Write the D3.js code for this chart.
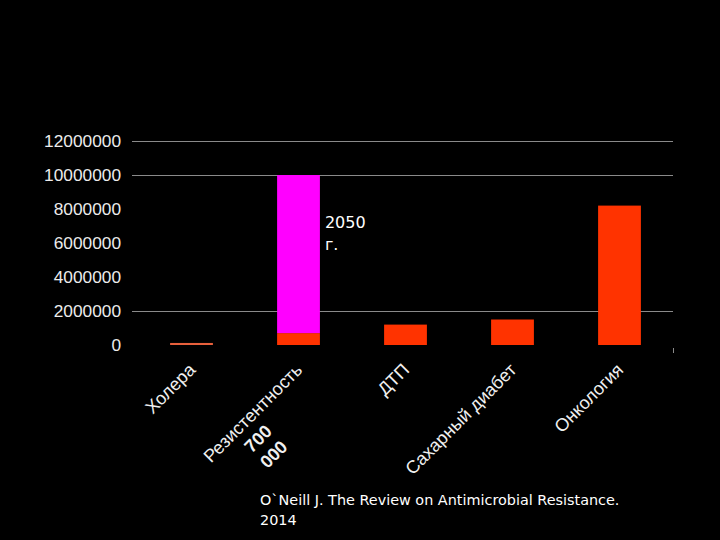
<!DOCTYPE html>
<html><head><meta charset="utf-8">
<script src="https://cdn.jsdelivr.net/npm/d3@7"></script>
<style>html,body{margin:0;padding:0;background:#000;}svg{display:block;}</style>
</head><body>
<script>
const categories = ["Холера", "Резистентность", "ДТП", "Сахарный диабет", "Онкология"];
const values2014 = [120000, 700000, 1200000, 1500000, 8200000];
const values2050 = [0, 10000000, 0, 0, 0];
const yTicks = [0, 2000000, 4000000, 6000000, 8000000, 10000000, 12000000];
const gridValues = [2000000, 10000000, 12000000];
const resistExtra = ["700", "000"];
const annotation = ["2050", "г."];
const citation = ["O`Neill J. The Review on Antimicrobial Resistance.", "2014"];

const W = 720, H = 540;
const svg = d3.select("body").append("svg").attr("width", W).attr("height", H);
svg.append("rect").attr("width", W).attr("height", H).attr("fill", "#000");

const x = d3.scaleBand().domain(categories).range([138, 673]).paddingInner(0.6).paddingOuter(0.3);
const y = d3.scaleLinear().domain([0, 12000000]).range([345, 141]);

// gridlines
svg.append("g").selectAll("line").data(gridValues).join("line")
  .attr("x1", 132).attr("x2", 673)
  .attr("y1", d => Math.round(y(d)) + 0.5).attr("y2", d => Math.round(y(d)) + 0.5)
  .attr("stroke", "#8a8a8a").attr("stroke-width", 1);

// y tick labels
svg.append("g").selectAll("text").data(yTicks).join("text")
  .attr("x", 121).attr("y", d => y(d))
  .attr("dy", "0.36em").attr("text-anchor", "end")
  .attr("font-family", "'Liberation Sans', Arial, sans-serif").attr("font-size", 17.3)
  .attr("fill", "#ececec").text(d => d);

// bars 2014 (orange)
svg.append("g").selectAll("rect").data(categories).join("rect")
  .attr("x", d => x(d)).attr("width", x.bandwidth())
  .attr("y", (d, i) => y(values2014[i])).attr("height", (d, i) => y(0) - y(values2014[i]))
  .attr("fill", (d, i) => i === 0 ? "#e8603c" : "#ff3300");

// bars 2050 (magenta) stacked
svg.append("g").selectAll("rect").data(categories).join("rect")
  .attr("x", d => x(d)).attr("width", x.bandwidth())
  .attr("y", (d, i) => y(values2050[i])).attr("height", (d, i) => values2050[i] > 0 ? y(values2014[i]) - y(values2050[i]) : 0)
  .attr("fill", "#ff00ff");

// small end tick
svg.append("line").attr("x1", 673.5).attr("x2", 673.5).attr("y1", 348).attr("y2", 353)
  .attr("stroke", "#8a8a8a");

// x labels rotated
const xl = svg.append("g").selectAll("g").data(categories).join("g")
  .attr("transform", d => `translate(${x(d) + x.bandwidth() / 2 + 5},${371}) rotate(-45)`);
xl.append("text").attr("text-anchor", "end")
  .attr("font-family", "'Liberation Sans', Arial, sans-serif").attr("font-size", 18)
  .attr("fill", "#f0f0f0").text(d => d);

// extra lines under Резистентность
const rg = xl.filter(d => d === categories[1]);
rg.selectAll("text.extra").data(resistExtra).join("text").attr("class", "extra")
  .attr("x", -80).attr("y", (d, i) => 22 + i * 22)
  .attr("text-anchor", "middle")
  .attr("font-family", "'Liberation Sans', Arial, sans-serif").attr("font-size", 18).attr("font-weight", "bold")
  .attr("fill", "#f0f0f0").text(d => d);

// annotation 2050 г.
svg.append("g").selectAll("text").data(annotation).join("text")
  .attr("x", x(categories[1]) + x.bandwidth() + 5).attr("y", (d, i) => y(7000000) + 2 + i * 22)
  .attr("font-family", "'DejaVu Sans', Verdana, sans-serif").attr("font-size", 16)
  .attr("fill", "#ffffff").text(d => d);

// citation
svg.append("g").selectAll("text").data(citation).join("text")
  .attr("x", 260).attr("y", (d, i) => 505 + i * 20)
  .attr("font-family", "'DejaVu Sans', Verdana, sans-serif").attr("font-size", 14.4)
  .attr("fill", "#ffffff").text(d => d);
</script>
</body></html>
